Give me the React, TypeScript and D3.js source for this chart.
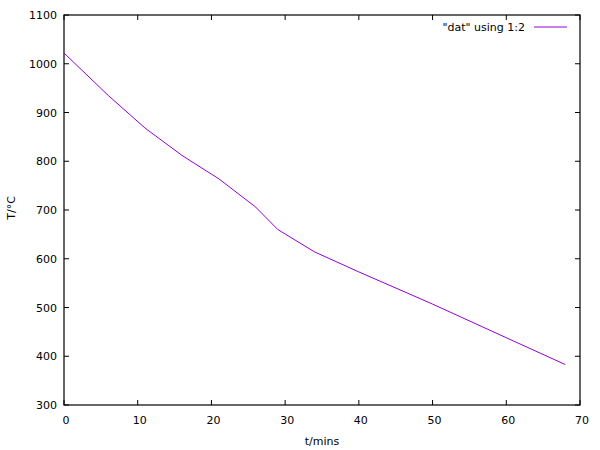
import React from "react";
import * as d3 from "d3";

const times = [0, 6, 11, 16, 21, 26, 29, 34, 40, 50, 60, 68];
const temps = [1022, 935, 868, 812, 764, 706, 660, 614, 573, 507, 438, 383];
const xTicks = [0, 10, 20, 30, 40, 50, 60, 70];
const yTicks = [300, 400, 500, 600, 700, 800, 900, 1000, 1100];
const seriesLabel = '"dat" using 1:2';
const xLabel = "t/mins";
const yLabel = "T/°C";

export default function App() {
  const W = 600, H = 450;
  const L = 64, R = 580, T = 15, B = 405;
  const x = d3.scaleLinear().domain([0, 70]).range([L, R]);
  const y = d3.scaleLinear().domain([300, 1100]).range([B, T]);
  const pts = times.map((t, i) => [t, temps[i]] as [number, number]);
  const line = d3.line<[number, number]>().x(d => x(d[0])).y(d => y(d[1]));
  const font = "DejaVu Sans, sans-serif";
  const tl = 5;
  return (
    <svg width={W} height={H} style={{ position: "absolute", left: 0, top: 0, background: "#fff" }} fontFamily={font} fontSize={11}>
      <rect x={0} y={0} width={W} height={H} fill="#fff" />
      {xTicks.map(t => (
        <g key={"x" + t}>
          <line x1={x(t)} x2={x(t)} y1={B} y2={B - tl} stroke="#000" strokeWidth={1} />
          <line x1={x(t)} x2={x(t)} y1={T} y2={T + tl} stroke="#000" strokeWidth={1} />
          <text x={x(t) + 2} y={B + 19} textAnchor="middle" fill="#000">{t}</text>
        </g>
      ))}
      {yTicks.map(t => (
        <g key={"y" + t}>
          <line x1={L} x2={L + tl} y1={y(t)} y2={y(t)} stroke="#000" strokeWidth={1} />
          <line x1={R} x2={R - tl} y1={y(t)} y2={y(t)} stroke="#000" strokeWidth={1} />
          <text x={L - 7} y={y(t) + 4} textAnchor="end" fill="#000">{t}</text>
        </g>
      ))}
      <rect x={L} y={T} width={R - L} height={B - T} fill="none" stroke="#000" strokeWidth={1.2} />
      <path d={line(pts) || ""} fill="none" stroke="#9400d3" strokeWidth={1} />
      <text x={525} y={31} textAnchor="end" fill="#000">{seriesLabel}</text>
      <line x1={534} x2={567} y1={27} y2={27} stroke="#9400d3" strokeWidth={1} />
      <text x={322} y={445} textAnchor="middle" fill="#000">{xLabel}</text>
      <text transform={`translate(15,208) rotate(-90)`} textAnchor="middle" fill="#000">{yLabel}</text>
    </svg>
  );
}
